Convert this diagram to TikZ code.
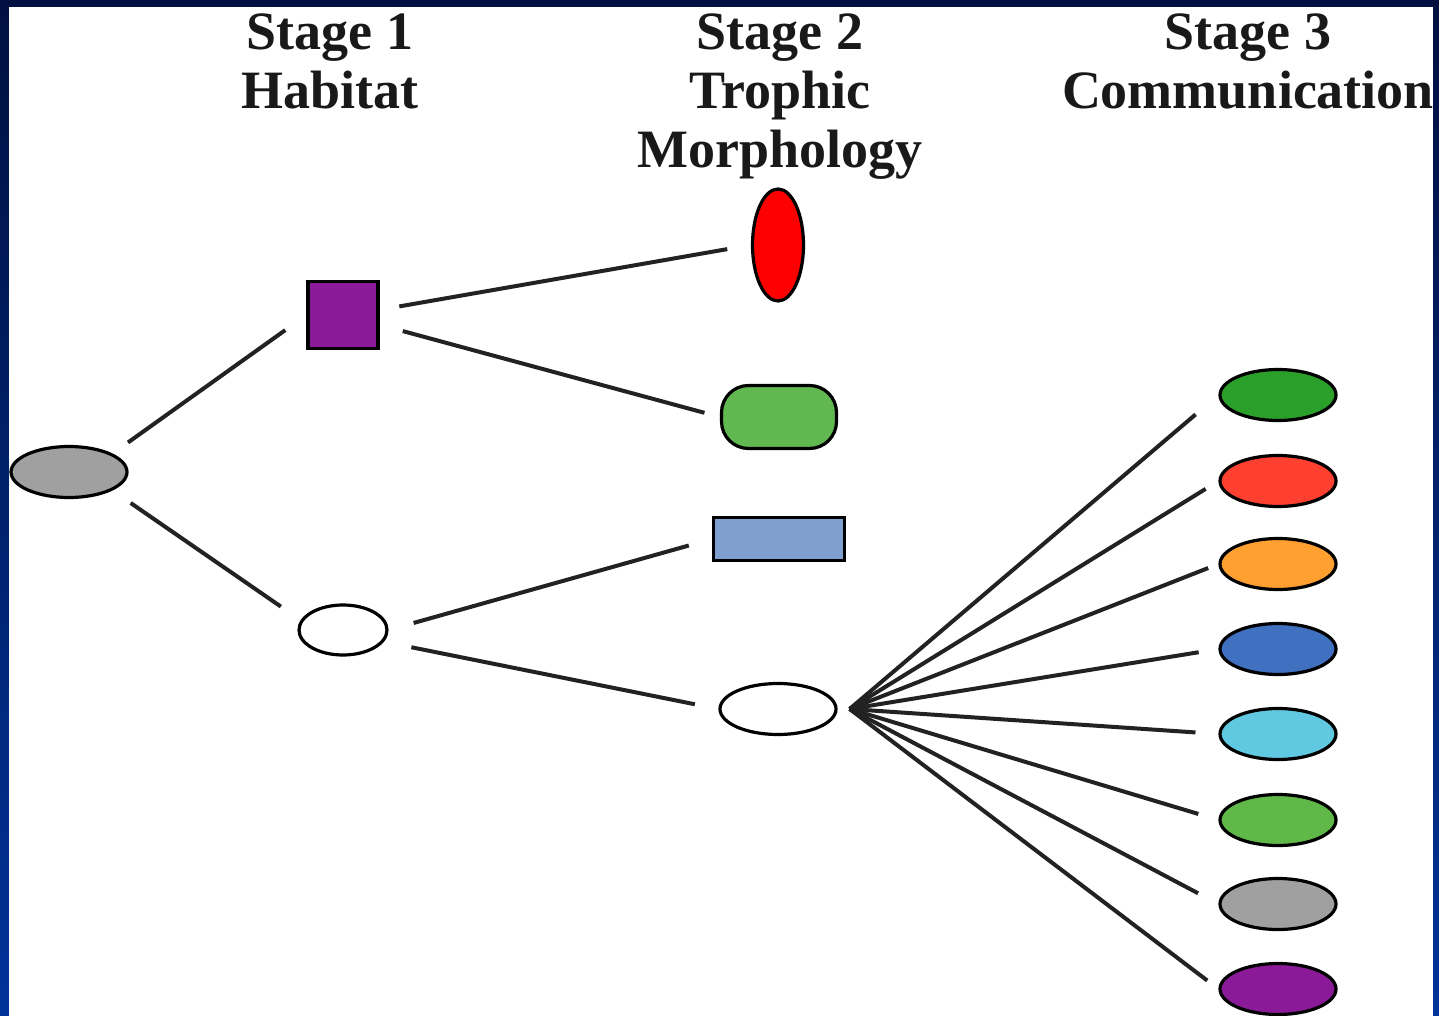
\documentclass[tikz,border=0pt]{standalone}
\usepackage{fontspec}
\setmainfont{Liberation Serif}
\usetikzlibrary{shapes.geometric}
\definecolor{frametop}{HTML}{001040}
\definecolor{framebot}{HTML}{003399}
\definecolor{cgray}{HTML}{A0A0A0}
\definecolor{cpurple}{HTML}{8A1A98}
\definecolor{cred}{HTML}{FF0000}
\definecolor{cgreenA}{HTML}{62B850}
\definecolor{cblueA}{HTML}{7F9FD0}
\definecolor{cdgreen}{HTML}{2AA02A}
\definecolor{corred}{HTML}{FF4030}
\definecolor{corange}{HTML}{FFA030}
\definecolor{cblue}{HTML}{4070C0}
\definecolor{clblue}{HTML}{60C8E0}
\definecolor{cgreen}{HTML}{60B848}
\definecolor{cline}{HTML}{222222}
\begin{document}
\begin{tikzpicture}[x=1pt,y=-1pt,
  shp/.style={draw=black, line width=3.2pt, inner sep=0pt},
  ell/.style={shp, ellipse, minimum width=116pt, minimum height=51pt},
  conn/.style={draw=cline, line width=4pt},
  head/.style={font=\fontsize{54}{59}\selectfont\bfseries, align=center, anchor=north, inner sep=0pt, text=black!90}
]
\useasboundingbox (0,0) rectangle (1439,1016);
\shade[top color=frametop, bottom color=framebot] (0,0) rectangle (1439,1016);
\fill[white] (9,7) rectangle (1433,1016);

% headings
\node[head] (h1) at (330,14) {Stage 1\\Habitat};
\node[head] (h2) at (780,14) {Stage 2\\Trophic\\Morphology};
\node[head] (h3) at (1248,14) {Stage 3\\Communication};

% nodes
\node[ell, fill=cgray] (root) at (69,472) {};
\node[shp, rectangle, fill=cpurple, minimum width=70pt, minimum height=67pt] (sq) at (343,315) {};
\node[shp, ellipse, fill=white, minimum width=88pt, minimum height=50pt] (w1) at (343,630) {};
\node[shp, ellipse, fill=cred, minimum width=51pt, minimum height=112pt] (red) at (778,245) {};
\node[shp, rectangle, rounded corners=27pt, fill=cgreenA, minimum width=115pt, minimum height=63pt] (grn) at (779,417) {};
\node[shp, rectangle, fill=cblueA, minimum width=131pt, minimum height=43pt] (blu) at (779,539) {};
\node[ell, fill=white] (w2) at (778,709) {};

\node[ell, fill=cdgreen] (c1) at (1278,395) {};
\node[ell, fill=corred]  (c2) at (1278,481) {};
\node[ell, fill=corange] (c3) at (1278,564) {};
\node[ell, fill=cblue]   (c4) at (1278,649) {};
\node[ell, fill=clblue]  (c5) at (1278,734) {};
\node[ell, fill=cgreen]  (c6) at (1278,820) {};
\node[ell, fill=cgray]   (c7) at (1278,904) {};
\node[ell, fill=cpurple] (c8) at (1278,989) {};

% connectors
\draw[conn, shorten <=19pt, shorten >=26pt] (root.23) -- (sq.west);
\draw[conn, shorten <=22pt, shorten >=24pt] (root.-23) -- (w1.167);
\draw[conn, shorten <=20pt, shorten >=24pt] (sq.8) -- (red.west);
\draw[conn, shorten <=24pt, shorten >=16pt] (sq.-15) -- (grn.west);
\draw[conn, shorten <=26pt, shorten >=24pt] (w1.east) -- (blu.west);
\draw[conn, shorten <=28pt, shorten >=24pt] (w1.-16) -- (w2.west);

\coordinate (hub) at ([xshift=12pt]w2.east);
\draw[conn, shorten >=30pt] (hub) -- (c1.west);
\draw[conn, shorten >=15pt] (hub) -- (c2.west);
\draw[conn, shorten >=11pt] (hub) -- (c3.west);
\draw[conn, shorten >=20pt] (hub) -- (c4.west);
\draw[conn, shorten >=23pt] (hub) -- (c5.west);
\draw[conn, shorten >=21pt] (hub) -- (c6.west);
\draw[conn, shorten >=23pt] (hub) -- (c7.west);
\draw[conn, shorten >=14pt] (hub) -- (c8.west);
\end{tikzpicture}
\end{document}
